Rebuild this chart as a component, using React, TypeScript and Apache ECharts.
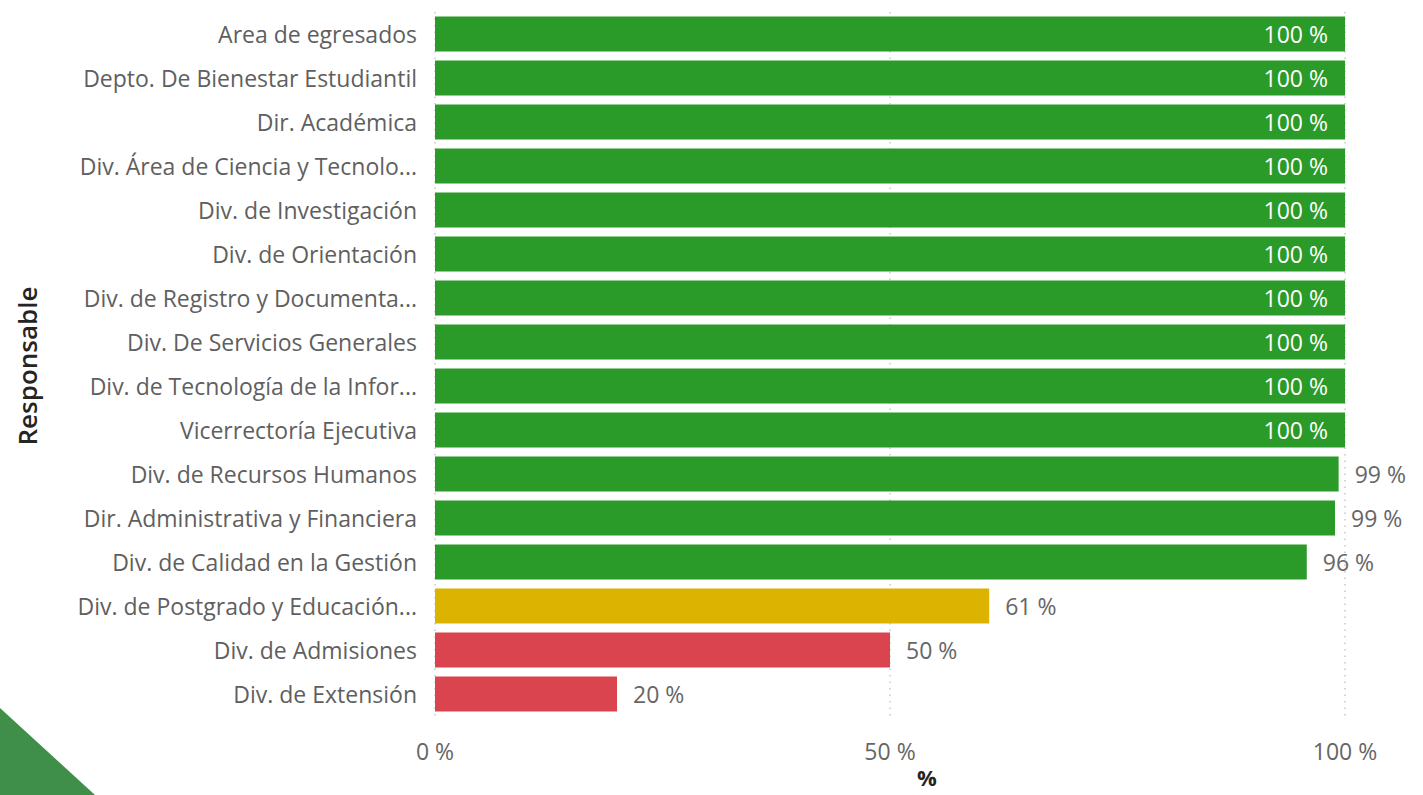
import React, { useEffect, useRef } from "react";
import * as echarts from "echarts";

const categories = [
  "Area de egresados",
  "Depto. De Bienestar Estudiantil",
  "Dir. Académica",
  "Div. Área de Ciencia y Tecnolo...",
  "Div. de Investigación",
  "Div. de Orientación",
  "Div. de Registro y Documenta...",
  "Div. De Servicios Generales",
  "Div. de Tecnología de la Infor...",
  "Vicerrectoría Ejecutiva",
  "Div. de Recursos Humanos",
  "Dir. Administrativa y Financiera",
  "Div. de Calidad en la Gestión",
  "Div. de Postgrado y Educación...",
  "Div. de Admisiones",
  "Div. de Extensión",
];
const values = [100, 100, 100, 100, 100, 100, 100, 100, 100, 100, 99.3, 98.9, 95.8, 60.9, 50, 20];
const xTicks = [0, 50, 100];

const FONT = "'Open Sans', 'Noto Sans', sans-serif";

function colorFor(v: number) {
  if (v >= 90) return "#2a9a28";
  if (v >= 60) return "#dbb300";
  return "#d9444f";
}

export default function App() {
  const ref = useRef<HTMLDivElement>(null);
  useEffect(() => {
    document.body.style.margin = "0";
    const chart = echarts.init(ref.current!, null, { renderer: "svg" });
    const data = values.map((v) => {
      const inside = v >= 99.5;
      return {
        value: v,
        itemStyle: { color: colorFor(v) },
        label: {
          show: true,
          position: inside ? "insideRight" : "right",
          distance: inside ? 17 : 16,
          color: inside ? "#ffffff" : "#666666",
          fontSize: 23,
          fontFamily: FONT,
          formatter: (p: any) => Math.round(p.value) + " %",
        },
      };
    });
    chart.setOption({
      animation: false,
      grid: { left: 435, right: 78, top: 12, bottom: 79, containLabel: false },
      xAxis: {
        type: "value",
        min: 0,
        max: 100,
        interval: 50,
        axisLine: { show: false },
        axisTick: { show: false },
        axisLabel: {
          formatter: (v: number) => (xTicks.includes(v) ? v + " %" : ""),
          fontSize: 23,
          color: "#666666",
          fontFamily: FONT,
          margin: 23,
        },
        splitLine: { show: true, lineStyle: { type: [1.5, 5], color: "#c8c8c8", width: 1.5 } },
      },
      yAxis: {
        type: "category",
        data: categories,
        inverse: true,
        axisLine: { show: false },
        axisTick: { show: false },
        axisLabel: { fontSize: 23, color: "#5f5f5f", fontFamily: FONT, margin: 18 },
      },
      series: [
        {
          type: "bar",
          data,
          barCategoryGap: "20%",
        },
      ],
      graphic: [
        {
          type: "polygon",
          shape: { points: [[0, 708], [95, 795], [0, 795]] },
          style: { fill: "#3f8f4a" },
        },
        {
          type: "text",
          x: 927,
          y: 766,
          style: {
            text: "%",
            fontSize: 22,
            fontWeight: "bold",
            fill: "#252423",
            fontFamily: FONT,
            align: "center",
            verticalAlign: "top",
          },
        },
        {
          type: "text",
          x: 27,
          y: 366,
          rotation: Math.PI / 2,
          style: {
            text: "Responsable",
            fontSize: 26,
            fontWeight: 600,
            fill: "#252423",
            fontFamily: FONT,
            align: "center",
            verticalAlign: "middle",
          },
        },
      ],
    });
    return () => chart.dispose();
  }, []);
  return <div ref={ref} style={{ width: 1423, height: 795 }} />;
}
